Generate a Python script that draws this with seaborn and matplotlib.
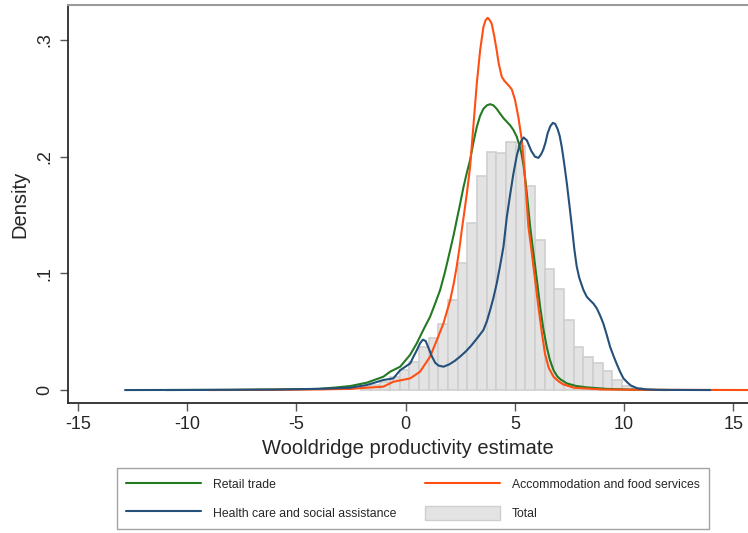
import numpy as np
import pandas as pd
import seaborn as sns
import matplotlib.pyplot as plt
from matplotlib.patches import Patch
from matplotlib.lines import Line2D

# Histogram of the total (bin edges and bar heights)
bin_edges = np.round(-2.05 + 0.443 * np.arange(30), 3)
total_density = [0.003, 0.0043, 0.0071, 0.0114, 0.0171, 0.0243, 0.037, 0.0443,
                 0.057, 0.077, 0.1086, 0.1428, 0.1837, 0.2037, 0.2034, 0.2128,
                 0.209, 0.175, 0.1285, 0.104, 0.087, 0.060, 0.037, 0.028,
                 0.0229, 0.0163, 0.0086, 0.0034, 0.002]

# Kernel densities by sector
retail_x = [-11, -8, -6, -4, -3.3, -2.54, -1.78, -1.02, -0.71, -0.25, 0.2, 0.51,
            0.85, 1.12, 1.35, 1.58, 1.8, 2.04, 2.2, 2.34, 2.5, 2.65, 2.8, 2.95,
            3.1, 3.26, 3.41, 3.56, 3.72, 3.87, 4.02, 4.17, 4.32, 4.48, 4.63,
            4.78, 4.93, 5.09, 5.2, 5.3, 5.4, 5.5, 5.6, 5.7, 5.82, 5.93, 6.05,
            6.16, 6.3, 6.46, 6.6, 6.77, 6.95, 7.1, 7.38, 7.8, 8.29, 9.2, 10.5, 12]
retail_y = [0, 0.0002, 0.0005, 0.001, 0.002, 0.0034, 0.0063, 0.0114, 0.0157,
            0.020, 0.030, 0.040, 0.053, 0.0628, 0.074, 0.0857, 0.101, 0.12,
            0.133, 0.1457, 0.160, 0.174, 0.186, 0.197, 0.212, 0.2257, 0.235,
            0.241, 0.244, 0.245, 0.244, 0.241, 0.237, 0.233, 0.230, 0.227,
            0.223, 0.217, 0.210, 0.203, 0.192, 0.177, 0.159, 0.14, 0.122,
            0.106, 0.088, 0.071, 0.053, 0.037, 0.026, 0.017, 0.0115, 0.009,
            0.0057, 0.0035, 0.0023, 0.001, 0.0003, 0]

accom_x = [-9, -6, -4, -2.5, -1.78, -1.02, -0.56, 0.21, 0.66, 1.12, 1.43, 1.73,
           2.04, 2.2, 2.34, 2.46, 2.57, 2.69, 2.80, 2.95, 3.10, 3.26, 3.41,
           3.56, 3.66, 3.76, 3.85, 3.94, 4.05, 4.17, 4.26, 4.40, 4.52, 4.63,
           4.74, 4.86, 5.01, 5.16, 5.32, 5.47, 5.62, 5.74, 5.85, 5.97, 6.08,
           6.23, 6.38, 6.55, 6.77, 7.0, 7.2, 7.7, 9, 11, 14, 16]
accom_y = [0, 0.0002, 0.0005, 0.001, 0.002, 0.0029, 0.0071, 0.010, 0.0157,
           0.0286, 0.0428, 0.057, 0.077, 0.091, 0.106, 0.121, 0.137, 0.153,
           0.168, 0.191, 0.2257, 0.263, 0.291, 0.311, 0.317, 0.319, 0.317,
           0.314, 0.304, 0.291, 0.28, 0.2685, 0.265, 0.2628, 0.2605, 0.2577,
           0.2485, 0.234, 0.214, 0.181, 0.14, 0.123, 0.106, 0.088, 0.071, 0.05,
           0.031, 0.019, 0.0114, 0.0075, 0.005, 0.002, 0.0005, 0.0002, 0.0001, 0]

health_x = [-12.84, -10, -8, -6, -4, -2.54, -1.78, -1.02, -0.56, -0.25, 0.21,
            0.36, 0.51, 0.66, 0.79, 0.92, 1.05, 1.2, 1.35, 1.5, 1.73, 2.0, 2.25,
            2.49, 2.75, 3.0, 3.3, 3.56, 3.72, 3.87, 4.02, 4.17, 4.32, 4.48,
            4.63, 4.78, 4.93, 5.09, 5.25, 5.40, 5.55, 5.75, 5.92, 6.08, 6.2,
            6.3, 6.4, 6.5, 6.62, 6.74, 6.85, 6.95, 7.05, 7.15, 7.26, 7.38, 7.5,
            7.61, 7.72, 7.83, 7.95, 8.14, 8.29, 8.44, 8.6, 8.75, 8.9, 9.05, 9.21,
            9.36, 9.52, 9.67, 9.82, 9.97, 10.15, 10.3, 10.6, 11.0, 11.5, 12.3, 13.94]
health_y = [0, 0.0001, 0.0002, 0.0004, 0.001, 0.002, 0.0043, 0.0086, 0.010,
            0.017, 0.0228, 0.0286, 0.034, 0.040, 0.0432, 0.042, 0.036, 0.029,
            0.0235, 0.021, 0.020, 0.022, 0.025, 0.0286, 0.033, 0.038, 0.045,
            0.0514, 0.059, 0.0686, 0.079, 0.0914, 0.106, 0.123, 0.148, 0.167,
            0.185, 0.201, 0.212, 0.2165, 0.214, 0.205, 0.2, 0.199, 0.202,
            0.206, 0.212, 0.220, 0.226, 0.229, 0.228, 0.224, 0.218, 0.208,
            0.194, 0.177, 0.158, 0.140, 0.121, 0.106, 0.096, 0.0857, 0.080,
            0.077, 0.074, 0.070, 0.064, 0.057, 0.047, 0.037, 0.029, 0.022,
            0.0155, 0.010, 0.0065, 0.004, 0.0015, 0.0006, 0.0002, 0.0001, 0]

x_ticks = [-15, -10, -5, 0, 5, 10, 15]
y_ticks = [0, 0.1, 0.2, 0.3]
y_tick_labels = ['0', '.1', '.2', '.3']

green = '#237a23'
orange = '#ff4f12'
navy = '#24507a'
bar_fill = '#e3e3e3'
bar_edge = '#cfcfcf'

sns.set_style('white')
plt.rcParams['font.family'] = ['Liberation Sans', 'DejaVu Sans']

fig = plt.figure(figsize=(7.48, 5.33), dpi=100)
ax = fig.add_axes([68 / 748, 130 / 533, 680 / 748, 398 / 533])

hist_df = pd.DataFrame({
    'center': (bin_edges[:-1] + bin_edges[1:]) / 2,
    'density': total_density,
})
sns.histplot(data=hist_df, x='center', weights='density', bins=list(bin_edges),
             ax=ax, color=bar_fill, edgecolor=bar_edge, linewidth=1.2, alpha=1)

sns.lineplot(x=retail_x, y=retail_y, ax=ax, color=green, linewidth=1.5, sort=False)
sns.lineplot(x=accom_x, y=accom_y, ax=ax, color=orange, linewidth=1.5, sort=False)
sns.lineplot(x=health_x, y=health_y, ax=ax, color=navy, linewidth=1.5, sort=False)

ax.set_xlim(-15.45, 15.67)
ax.set_ylim(-0.0111, 0.330)
ax.set_xticks(x_ticks)
ax.set_xticklabels([str(t) for t in x_ticks])
ax.set_yticks(y_ticks)
ax.set_yticklabels(y_tick_labels, rotation=90, va='center')
ax.tick_params(axis='both', direction='out', length=5.5, width=1, color='#555555',
               labelsize=13, pad=4, bottom=True, left=True)
ax.tick_params(axis='y', pad=5)

ax.set_xlabel('Wooldridge productivity estimate', fontsize=14.5, labelpad=4)
ax.set_ylabel('Density', fontsize=14.5, labelpad=5)

for s in ['left', 'bottom']:
    ax.spines[s].set_color('#2b2b2b')
    ax.spines[s].set_linewidth(1.3)
ax.spines['top'].set_color('#9a9a9a')
ax.spines['top'].set_linewidth(1.5)
ax.spines['right'].set_visible(False)

handles = [
    Line2D([], [], color=green, linewidth=1.5),
    Line2D([], [], color=navy, linewidth=1.5),
    Line2D([], [], color=orange, linewidth=1.5),
    Patch(facecolor=bar_fill, edgecolor=bar_edge),
]
labels = ['Retail trade', 'Health care and social assistance',
          'Accommodation and food services', 'Total']
leg = fig.legend(handles, labels, ncol=2, loc='upper left',
                 bbox_to_anchor=(117 / 748, 1 - 468 / 533),
                 fontsize=8.8, frameon=True, fancybox=False,
                 handlelength=6.1, handleheight=1.45, handletextpad=1.0,
                 labelspacing=1.15, borderpad=0.75, borderaxespad=0,
                 columnspacing=2.35)
leg.get_frame().set_edgecolor('#8c8c8c')
leg.get_frame().set_linewidth(1.0)

fig.savefig('out.png', dpi=100)
